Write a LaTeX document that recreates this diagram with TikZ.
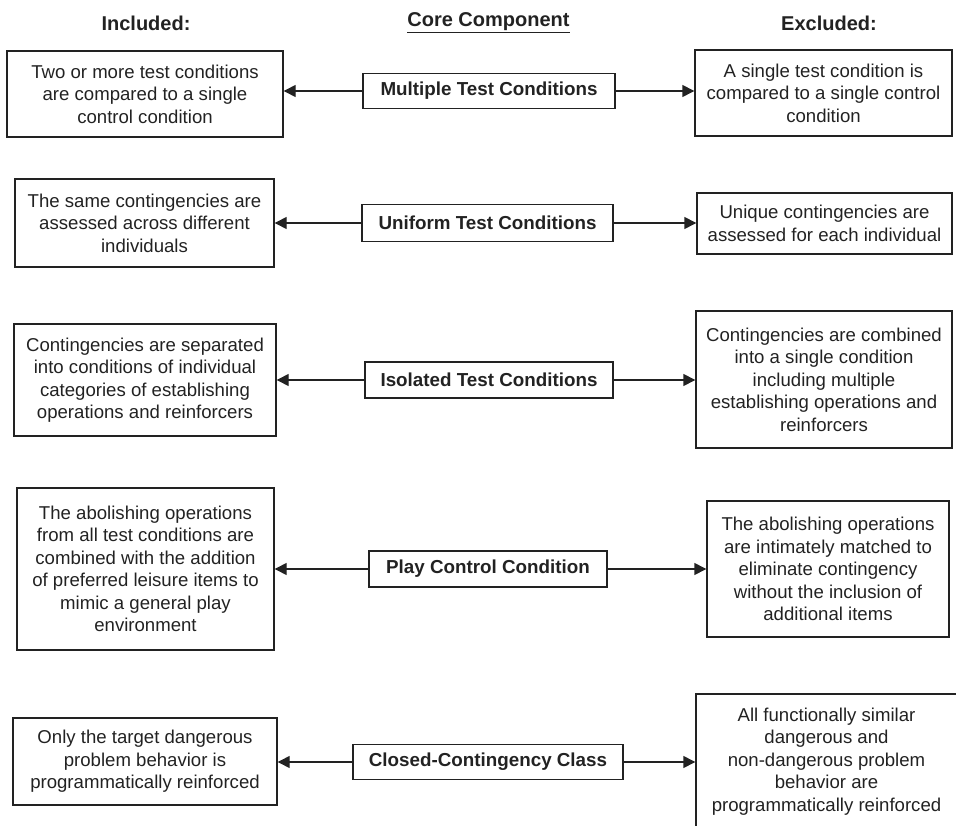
\documentclass[tikz,border=0pt]{standalone}
\usepackage{fontspec}
\setmainfont{Liberation Sans}
\usetikzlibrary{arrows.meta}
\definecolor{ink}{HTML}{222222}
\begin{document}
\begin{tikzpicture}[x=1pt,y=-1pt,
  every node/.style={text=ink, font=\fontsize{18.6}{22.5}\selectfont},
  box/.style={draw=ink, line width=1.4pt, align=center, inner sep=0pt},
  boxsize/.style 2 args={minimum width=#1pt, minimum height=#2pt},
  core/.style={box, font=\fontsize{18.8}{22.5}\selectfont\bfseries},
  head/.style={font=\fontsize{20}{24}\selectfont\bfseries, inner sep=0pt},
  conn/.style={draw=ink, line width=1.4pt, -{Triangle[length=12pt,width=12pt]}}]
\clip (0,0) rectangle (956,826);
\useasboundingbox (0,0) rectangle (956,826);

% headers
\node[head] (hin) at (146,23) {Included:};
\node[head] (hcore) at (488.5,23) {\underline{Core Component}};
\node[head] (hex) at (829,23) {Excluded:};

% row 1
\node[box, boxsize={276}{86}] (l1) at (145,94) {Two or more test conditions\\are compared to a single\\control condition};
\node[core, boxsize={252}{35}] (c1) at (489,91) {Multiple Test Conditions};
\node[box, boxsize={257}{86}] (r1) at (823.5,93) {A single test condition is\\compared to a single control\\condition};

% row 2
\node[box, boxsize={259}{88}] (l2) at (144.5,223) {The same contingencies are\\assessed across different\\individuals};
\node[core, boxsize={251}{37}] (c2) at (487.5,223) {Uniform Test Conditions};
\node[box, boxsize={255}{61}] (r2) at (824.5,223.5) {Unique contingencies are\\assessed for each individual};

% row 3
\node[box, boxsize={262}{112}] (l3) at (145,380) {Contingencies are separated\\into conditions of individual\\categories of establishing\\operations and reinforcers};
\node[core, boxsize={248}{36}] (c3) at (489,380) {Isolated Test Conditions};
\node[box, boxsize={256}{137}] (r3) at (824,379.5) {Contingencies are combined\\into a single condition\\including multiple\\establishing operations and\\reinforcers};

% row 4
\node[box, boxsize={257}{162}] (l4) at (145.5,569) {The abolishing operations\\from all test conditions are\\combined with the addition\\of preferred leisure items to\\mimic a general play\\environment};
\node[core, boxsize={238}{36}] (c4) at (488,569) {Play Control Condition};
\node[box, boxsize={242}{136}] (r4) at (828,569) {The abolishing operations\\are intimately matched to\\eliminate contingency\\without the inclusion of\\additional items};

% row 5
\node[box, boxsize={264}{87}] (l5) at (145,761.5) {Only the target dangerous\\problem behavior is\\programmatically reinforced};
\node[core, boxsize={270}{35}] (c5) at (488,762) {Closed-Contingency Class};
\node[box, boxsize={261}{135}] (r5) at (826.5,761.5) {All functionally similar\\dangerous and\\non-dangerous problem\\behavior are\\programmatically reinforced};

% connectors
\foreach \i in {1,...,5}{
  \draw[conn] (c\i.west) -- (c\i.west -| l\i.east);
  \draw[conn] (c\i.east) -- (c\i.east -| r\i.west);
}
\end{tikzpicture}
\end{document}
